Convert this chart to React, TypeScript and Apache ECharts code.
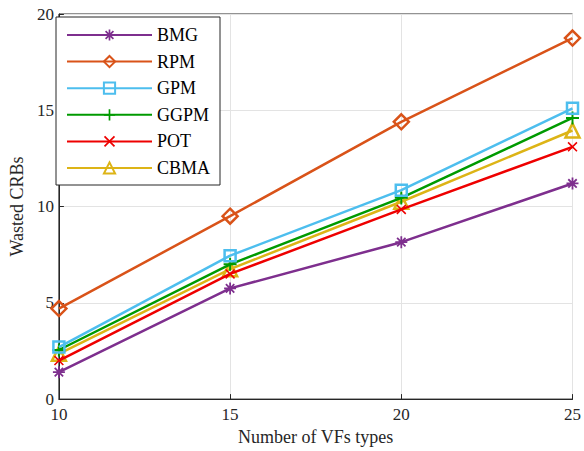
import React, { useEffect, useRef } from "react";
import * as echarts from "echarts";

const xValues = [10, 15, 20, 25];
const seriesNames = ["BMG", "RPM", "GPM", "GGPM", "POT", "CBMA"];
const bmg = [1.4, 5.75, 8.15, 11.2];
const rpm = [4.7, 9.5, 14.4, 18.75];
const gpm = [2.7, 7.45, 10.85, 15.1];
const ggpm = [2.55, 7.0, 10.45, 14.6];
const pot = [2.0, 6.5, 9.85, 13.1];
const cbma = [2.35, 6.75, 10.25, 13.95];
const yTicks = [0, 5, 10, 15, 20];

const colors = ["#7E2F8E", "#D95319", "#4DBEEE", "#009A00", "#EE0000", "#DDB416"];

const asterisk =
  "path://M0,8.5L20,8.5L20,11.5L0,11.5Z M8.5,0L11.5,0L11.5,20L8.5,20Z M4.06,1.94L18.06,15.94L15.94,18.06L1.94,4.06Z M15.94,1.94L18.06,4.06L4.06,18.06L1.94,15.94Z";
const plus = "path://M0,8.5L20,8.5L20,11.5L0,11.5Z M8.5,0L11.5,0L11.5,20L8.5,20Z";
const cross =
  "path://M2.3,0.1L19.9,17.7L17.7,19.9L0.1,2.3Z M17.7,0.1L19.9,2.3L2.3,19.9L0.1,17.7Z";

export default function App() {
  const ref = useRef<HTMLDivElement>(null);
  useEffect(() => {
    if (!ref.current) return;
    const chart = echarts.init(ref.current, null, { renderer: "svg" });
    const font = "Liberation Serif";
    const datas = [bmg, rpm, gpm, ggpm, pot, cbma];
    const symbols = [asterisk, "diamond", "rect", plus, cross, "triangle"];
    const sizes = [12, 15, 11, 13, 10, 14];
    const hollow = [false, true, true, false, false, true];
    const series = datas.map((d, i) => ({
      name: seriesNames[i],
      type: "line",
      data: d.map((v, j) => [xValues[j], v]),
      color: colors[i],
      symbol: symbols[i],
      symbolSize: sizes[i],
      showAllSymbol: true,
      lineStyle: { color: colors[i], width: 2.5 },
      itemStyle: hollow[i]
        ? { color: "rgba(255,255,255,0)", borderColor: colors[i], borderWidth: 2.5 }
        : { color: colors[i], borderWidth: 0 },
      emphasis: { disabled: true },
      z: 10 - i,
    }));
    chart.setOption({
      animation: false,
      backgroundColor: "#ffffff",
      textStyle: { fontFamily: font },
      grid: {
        left: 54,
        right: 6,
        top: 14,
        bottom: 47,
        show: true,
        borderColor: "#262626",
        borderWidth: 1,
        backgroundColor: "transparent",
      },
      legend: {
        orient: "vertical",
        left: 56,
        top: 17,
        padding: [9, 10, 8, 10],
        itemWidth: 85,
        itemHeight: 14,
        itemGap: 8.6,
        backgroundColor: "#ffffff",
        borderColor: "#262626",
        borderWidth: 1,
        borderRadius: 0,
        selectedMode: false,
        textStyle: { fontFamily: font, fontSize: 18, color: "#000" },
        data: seriesNames,
      },
      xAxis: {
        type: "value",
        min: 10,
        max: 25,
        interval: 5,
        name: "Number of VFs types",
        nameLocation: "middle",
        nameGap: 26,
        nameTextStyle: { fontFamily: font, fontSize: 18, color: "#262626" },
        axisLine: { lineStyle: { color: "#262626", width: 1 } },
        axisTick: { inside: true, length: 5, lineStyle: { color: "#262626" } },
        axisLabel: { fontFamily: font, fontSize: 17, color: "#262626", margin: 7 },
        splitLine: { show: true, lineStyle: { color: "#e3e3e3", width: 1 } },
      },
      yAxis: {
        type: "value",
        min: yTicks[0],
        max: yTicks[yTicks.length - 1],
        interval: 5,
        name: "Wasted CRBs",
        nameLocation: "middle",
        nameGap: 28,
        nameTextStyle: { fontFamily: font, fontSize: 18, color: "#262626" },
        axisLine: { show: true, lineStyle: { color: "#262626", width: 1 } },
        axisTick: { show: true, inside: true, length: 5, lineStyle: { color: "#262626" } },
        axisLabel: { fontFamily: font, fontSize: 17, color: "#262626", margin: 5 },
        splitLine: { show: true, lineStyle: { color: "#e3e3e3", width: 1 } },
      },
      series,
    });
    return () => chart.dispose();
  }, []);
  return <div ref={ref} style={{ width: 584, height: 451, position: "absolute", left: 0, top: 0 }} />;
}
